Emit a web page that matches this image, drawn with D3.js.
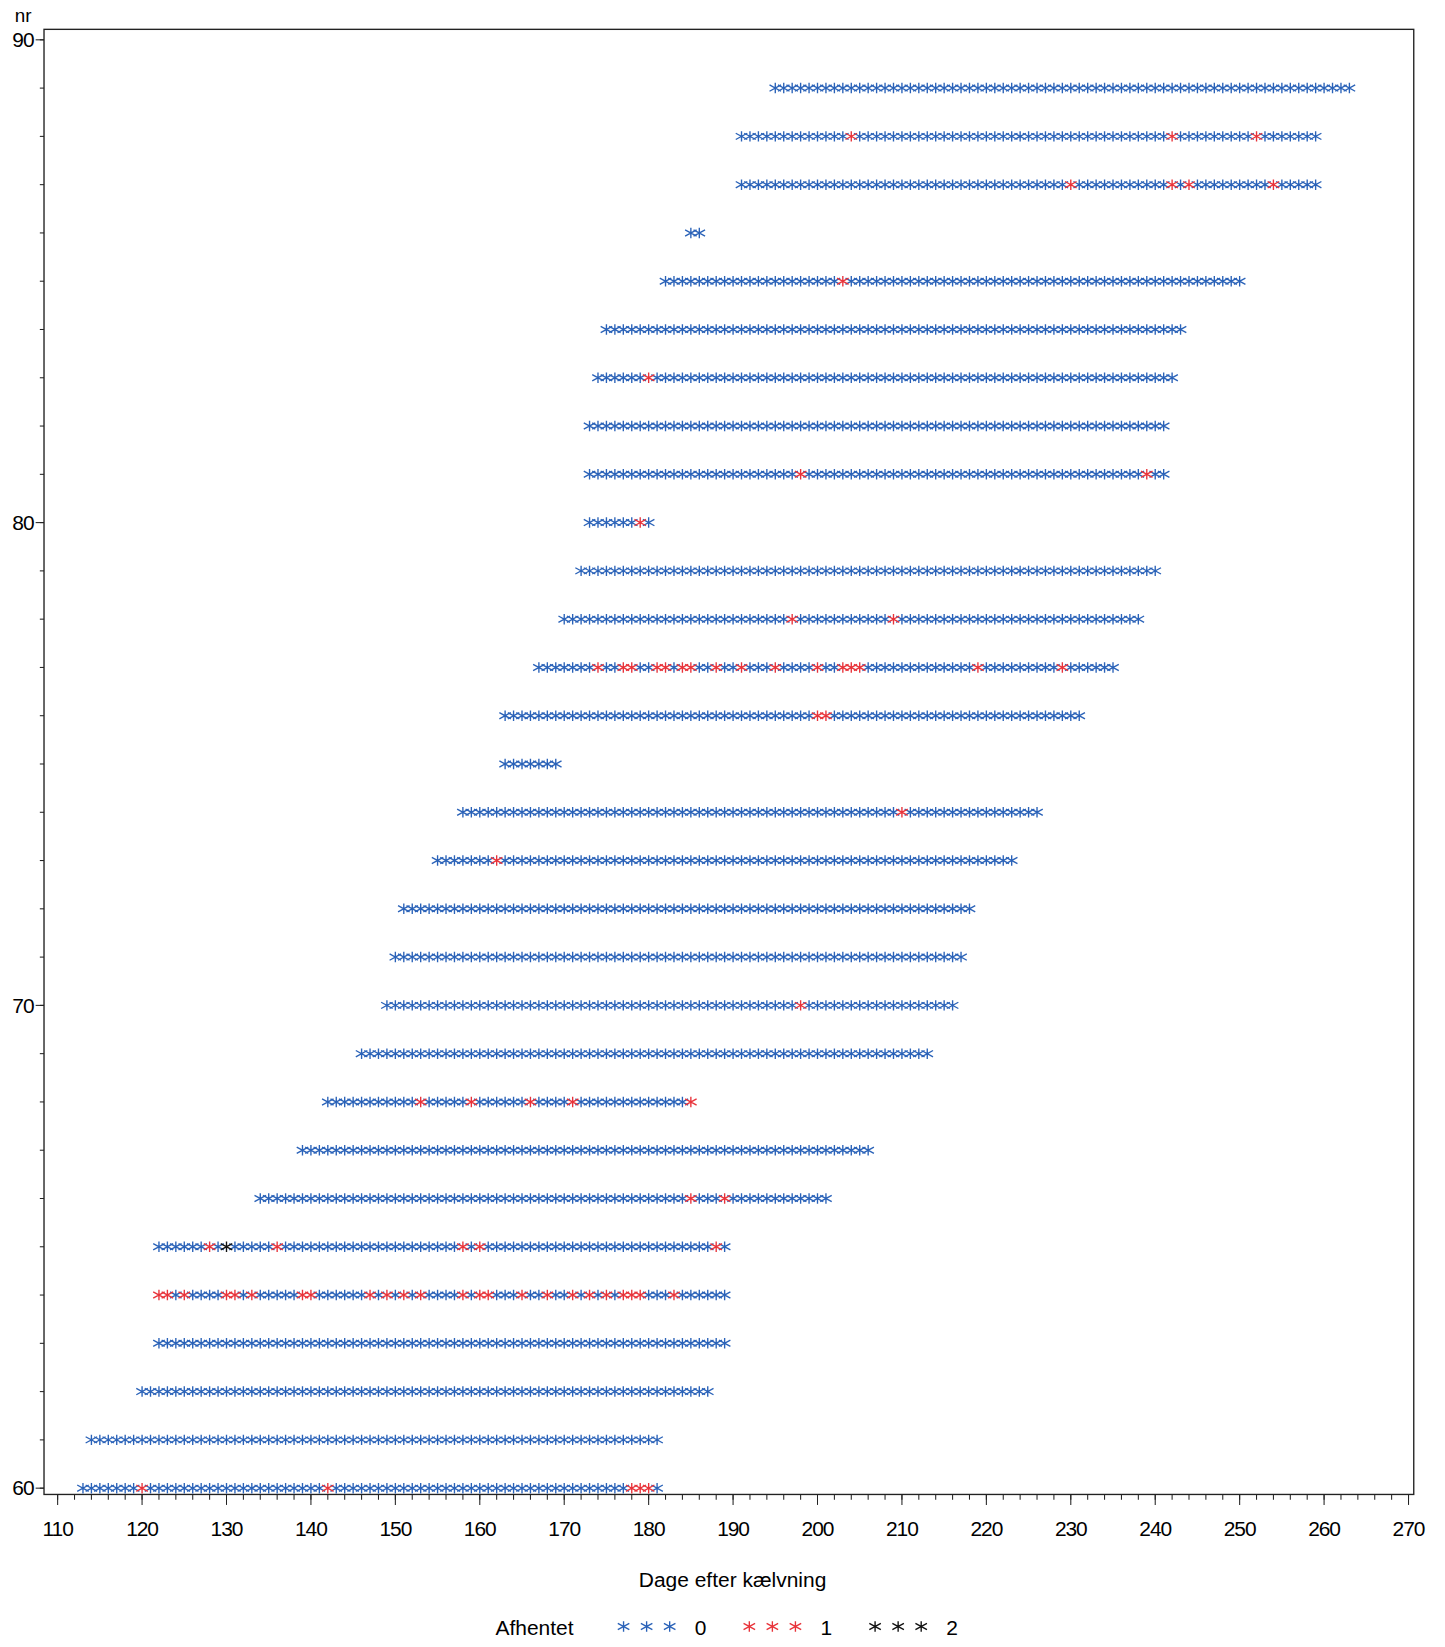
<!DOCTYPE html>
<html><head><meta charset="utf-8">
<script src="https://cdn.jsdelivr.net/npm/d3@7"></script>
<style>body{margin:0;background:#fff}text{font-family:Arial,"Liberation Sans",sans-serif}</style>
</head><body><svg id="c" width="1445" height="1647"></svg>
<script>
const rowIds   = [60,61,62,63,64,65,66,67,68,69,70,71,72,73,74,75,76,77,78,79,80,81,82,83,84,85,86,87,88,89];
const rowStart = [113,114,120,122,122,122,134,139,142,146,149,150,151,155,158,163,163,167,170,172,173,173,173,174,175,182,185,191,191,195];
const rowEnd   = [181,181,187,189,189,189,201,206,185,213,216,217,218,223,226,169,231,235,238,240,180,241,241,242,243,250,186,259,259,263];
const redDays = {
  60:[120,142,178,179,180],
  64:[122,123,125,130,131,133,139,140,147,149,151,153,158,160,161,165,168,171,173,175,177,178,179,183],
  65:[128,136,158,160,188],
  66:[185,189],
  68:[153,159,166,171,185],
  70:[198],
  73:[162],
  74:[210],
  76:[200,201],
  77:[174,177,178,181,182,184,185,188,191,195,200,203,204,205,219,229],
  78:[197,209],
  80:[179],
  81:[198,239],
  83:[180],
  85:[203],
  87:[230,242,244,254],
  88:[204,242,252]
};
const blackDays = {65:[130]};
const xTicks = [110,120,130,140,150,160,170,180,190,200,210,220,230,240,250,260,270];
const yTicks = [60,70,80,90];
const legendItems = [{label:"0",color:"#2a62b8"},{label:"1",color:"#e8333a"},{label:"2",color:"#111"}];

const svg = d3.select("#c").append("g").attr("transform","scale(1.048)");
const x = d3.scaleLinear().domain([110,270]).range([55,1344]);
const y = d3.scaleLinear().domain([60,90]).range([1420,38]);
const L=42,R=1349,T=28,B=1426;
svg.append("rect").attr("x",L).attr("y",T).attr("width",R-L).attr("height",B-T).attr("fill","none").attr("stroke","#222").attr("stroke-width",1.3);

const xa = svg.append("g").attr("transform",`translate(0,${B})`);
xa.selectAll("line.mi").data(d3.range(110,271,2)).join("line").attr("x1",d=>x(d)).attr("x2",d=>x(d)).attr("y1",0).attr("y2",5).attr("stroke","#222");
xa.selectAll("line.ma").data(xTicks).join("line").attr("x1",d=>x(d)).attr("x2",d=>x(d)).attr("y1",0).attr("y2",10).attr("stroke","#222");
xa.selectAll("text").data(xTicks).join("text").attr("x",d=>x(d)).attr("y",40).attr("text-anchor","middle").attr("font-size",20).attr("letter-spacing",-1).text(d=>d);
svg.append("text").attr("x",699).attr("y",1514).attr("text-anchor","middle").attr("font-size",20).text("Dage efter kælvning");

const ya = svg.append("g").attr("transform",`translate(${L},0)`);
ya.selectAll("line.mi").data(d3.range(60,91,1)).join("line").attr("y1",d=>y(d)).attr("y2",d=>y(d)).attr("x1",0).attr("x2",-4).attr("stroke","#222");
ya.selectAll("line.ma").data(yTicks).join("line").attr("y1",d=>y(d)).attr("y2",d=>y(d)).attr("x1",0).attr("x2",-8).attr("stroke","#222");
ya.selectAll("text").data(yTicks).join("text").attr("x",-10).attr("y",d=>y(d)+7).attr("text-anchor","end").attr("font-size",20).attr("letter-spacing",-1).text(d=>d);
svg.append("text").attr("x",22).attr("y",21).attr("text-anchor","middle").attr("font-size",18).text("nr");

function star(g,cx,cy,col){
  const w=5.5,h=5;
  g.append("path").attr("d",`M${cx},${cy-h}L${cx},${cy+h}M${cx-w},${cy-h*0.6}L${cx+w},${cy+h*0.6}M${cx-w},${cy+h*0.6}L${cx+w},${cy-h*0.6}`)
   .attr("stroke",col).attr("stroke-width",1.3).attr("fill","none");
}
const pts=[];
rowIds.forEach((r,i)=>{
  const red=redDays[r]||[], blk=blackDays[r]||[];
  for(let d=rowStart[i];d<=rowEnd[i];d++){
    pts.push({r,d,v: blk.includes(d)?2:(red.includes(d)?1:0)});
  }
});
const g=svg.append("g");
pts.sort((a,b)=>a.v-b.v).forEach(p=>star(g,x(p.d),y(p.r),legendItems[p.v].color));

svg.append("text").attr("x",510).attr("y",1560).attr("text-anchor","middle").attr("font-size",20).text("Afhentet");
legendItems.forEach((it,i)=>{
  const bx=595+i*120;
  for(let k=0;k<3;k++) star(svg,bx+k*22,1552,it.color);
  svg.append("text").attr("x",bx+68).attr("y",1560).attr("font-size",20).text(it.label);
});
</script></body></html>
